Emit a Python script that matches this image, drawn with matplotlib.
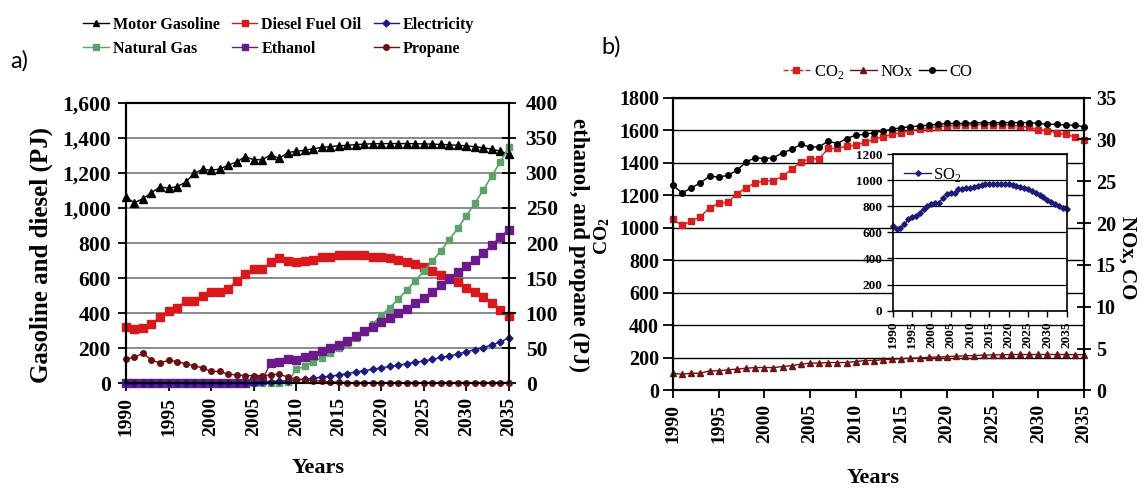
import matplotlib

matplotlib.use("Agg")

import matplotlib.pyplot as plt
from matplotlib.lines import Line2D
from matplotlib.ticker import FuncFormatter, MultipleLocator

years = list(range(1990, 2036))

# panel a) - left axis (PJ)
gasoline = [1060, 1030, 1053, 1087, 1120, 1112, 1122, 1146, 1197, 1220,
            1215, 1222, 1244, 1262, 1292, 1275, 1275, 1303, 1282, 1315,
            1324, 1328, 1338, 1345, 1350, 1354, 1357, 1361, 1364, 1366,
            1367, 1367, 1367, 1367, 1366, 1365, 1364, 1362, 1360, 1357,
            1354, 1349, 1343, 1335, 1324, 1305]
diesel = [324, 309, 314, 337, 381, 413, 429, 470, 470, 499,
          522, 518, 537, 585, 623, 651, 651, 690, 712, 699,
          690, 699, 706, 719, 723, 729, 733, 733, 729, 723,
          719, 713, 704, 694, 681, 666, 643, 618, 599, 575,
          546, 519, 491, 457, 419, 384]
# panel a) - right axis (PJ)
natural_gas = [0, 0, 0, 0, 0, 0, 0, 0, 0, 0,
               0, 0, 0, 0, 0, 0, 0.5, 1, 1, 1.5,
               20, 24, 31, 36, 43, 50, 56, 64, 73, 84,
               97, 108, 120, 133, 146, 160, 174, 189, 205, 221,
               239, 257, 276, 296, 316, 337]
ethanol = [0, 0, 0, 0, 0, 0, 0, 0, 0, 0,
           0, 0, 0, 0, 0, 3, 5, 29, 31, 34,
           33, 37, 41, 46, 50, 55, 61, 67, 74, 80,
           87, 93, 100, 106, 114, 122, 130, 140, 149, 158,
           167, 176, 186, 197, 209, 219]
electricity = [0.5, 0.5, 0.5, 0.5, 0.5, 0.5, 0.5, 0.5, 0.5, 0.5,
               0.5, 0.5, 0.5, 0.5, 0.5, 1, 1.5, 2, 3, 4,
               5, 6, 7, 9, 10, 12, 14, 16, 18, 20,
               22, 24, 26, 28, 30, 32, 34, 37, 39, 42,
               45, 48, 51, 55, 59, 65]
propane = [35, 37, 43, 33, 29, 33, 31, 28, 25, 22,
           17, 17, 13, 12, 11, 11, 11, 12, 13, 9,
           6, 5, 4, 3, 2, 1.5, 1, 1, 1, 1,
           1, 1, 1, 1, 1, 1, 1, 1, 1, 1,
           1, 1, 1, 1, 1, 1]

# panel b)
co2 = [1051, 1014, 1041, 1067, 1123, 1149, 1157, 1207, 1247, 1276,
       1288, 1288, 1317, 1360, 1405, 1423, 1423, 1487, 1487, 1501,
       1507, 1524, 1544, 1558, 1573, 1585, 1595, 1605, 1613, 1620,
       1626, 1629, 1632, 1633, 1634, 1634, 1634, 1630, 1624, 1616,
       1603, 1595, 1583, 1573, 1558, 1538]
nox = [2.06, 1.94, 2.06, 2.06, 2.35, 2.35, 2.47, 2.55, 2.66, 2.74,
       2.74, 2.74, 2.86, 2.97, 3.15, 3.27, 3.27, 3.34, 3.34, 3.34,
       3.46, 3.58, 3.58, 3.69, 3.73, 3.81, 3.85, 3.89, 3.97, 4.0,
       4.06, 4.1, 4.14, 4.18, 4.22, 4.26, 4.26, 4.3, 4.3, 4.3,
       4.3, 4.3, 4.3, 4.3, 4.28, 4.28]
co = [24.5, 23.6, 24.2, 24.8, 25.6, 25.5, 25.7, 26.3, 27.3, 27.8,
      27.7, 27.8, 28.4, 28.8, 29.4, 29.1, 29.1, 29.8, 29.5, 30.1,
      30.5, 30.6, 30.8, 31.0, 31.2, 31.4, 31.5, 31.6, 31.7, 31.8,
      31.9, 31.9, 31.9, 32.0, 32.0, 32.0, 32.0, 32.0, 32.0, 32.0,
      31.9, 31.8, 31.8, 31.7, 31.7, 31.5]
so2 = [648, 623, 631, 661, 700, 715, 725, 750, 779, 802,
       814, 822, 827, 865, 894, 899, 899, 929, 934, 937,
       942, 950, 957, 962, 968, 970, 973, 973, 973, 970,
       968, 962, 955, 947, 940, 929, 917, 904, 886, 868,
       848, 832, 817, 802, 784, 776]

year_ticks = list(range(1990, 2036, 5))

plt.rcParams["font.family"] = ["Liberation Serif", "DejaVu Serif"]
plt.rcParams["mathtext.fontset"] = "custom"
plt.rcParams["mathtext.rm"] = "Liberation Serif"
plt.rcParams["mathtext.bf"] = "Liberation Serif:bold"

fig = plt.figure(figsize=(11.43, 4.91), dpi=100)

BOLD = dict(fontweight="bold")


def style_year_axis(ax, size):
    ax.set_xlim(1990, 2035)
    ax.set_xticks(year_ticks)
    ax.set_xticklabels([str(y) for y in year_ticks], rotation=90, fontsize=size, **BOLD)
    ax.tick_params(axis="x", direction="out", length=6, width=1.3)


# ---------- panel a) ----------
ax1 = fig.add_axes([0.1102, 0.2193, 0.3351, 0.5715])
ax1r = ax1.twinx()

ax1.plot(years, gasoline, color="black", marker="^", ms=5.5, lw=1, clip_on=False)
ax1.plot(years, diesel, color="#d7191c", marker="s", ms=5.5, lw=1, clip_on=False)
ax1r.plot(years, natural_gas, color="#5ca36a", marker="s", ms=4.5, lw=1.2, clip_on=False)
ax1r.plot(years, ethanol, color="#6a1a8a", marker="s", ms=5.5, lw=1, clip_on=False)
ax1r.plot(years, electricity, color="#1a1a80", marker="D", ms=3.5, lw=1, clip_on=False)
ax1r.plot(years, propane, color="#6b1010", marker="o", ms=4, lw=1, clip_on=False)

ax1.set_ylim(0, 1600)
ax1.yaxis.set_major_locator(MultipleLocator(200))
ax1.yaxis.set_major_formatter(FuncFormatter(lambda v, p: f"{int(v):,}"))
ax1r.set_ylim(0, 400)
ax1r.yaxis.set_major_locator(MultipleLocator(50))
ax1.yaxis.grid(True, color="#8a8a8a", lw=1.4)
ax1.set_axisbelow(True)
style_year_axis(ax1, 14)
ax1.tick_params(axis="y", direction="out", length=6, width=1.3, labelsize=15.5, pad=5)
ax1r.tick_params(axis="y", direction="inout", length=10, width=1.3, labelsize=15.5, pad=7)
for lab in ax1.get_yticklabels() + ax1r.get_yticklabels():
    lab.set_fontweight("bold")
for ax in (ax1, ax1r):
    for sp in ax.spines.values():
        sp.set_linewidth(1.5)

handles_a = [
    Line2D([], [], color="black", marker="^", ms=5, lw=1, label="Motor Gasoline"),
    Line2D([], [], color="#5ca36a", marker="s", ms=4.5, lw=1, label="Natural Gas"),
    Line2D([], [], color="#d7191c", marker="s", ms=5, lw=1, label="Diesel Fuel Oil"),
    Line2D([], [], color="#6a1a8a", marker="s", ms=5, lw=1, label="Ethanol"),
    Line2D([], [], color="#1a1a80", marker="D", ms=3.5, lw=1, label="Electricity"),
    Line2D([], [], color="#6b1010", marker="o", ms=4, lw=1, label="Propane"),
]
fig.legend(handles=handles_a, ncol=3, loc="center", bbox_to_anchor=(0.244, 0.925),
           frameon=False, prop={"size": 11.5, "weight": "bold"}, handlelength=1.6,
           handletextpad=0.25, columnspacing=0.75, labelspacing=0.5)

fig.text(0.036, 0.48, "Gasoline and diesel (PJ)", rotation=90, ha="center", va="center",
         fontsize=18, **BOLD)
fig.text(0.506, 0.50, "ethanol, and propane (PJ)", rotation=-90, ha="center", va="center",
         fontsize=16.5, **BOLD)
fig.text(0.278, 0.047, "Years", ha="center", va="center", fontsize=16, **BOLD)
fig.text(0.017, 0.876, "a)", ha="center", va="center", fontsize=17, family="Lato")

# ---------- panel b) ----------
ax2 = fig.add_axes([0.5888, 0.2047, 0.3596, 0.5967])
ax2r = ax2.twinx()

ax2.plot(years, co2, color="#d42020", marker="s", ms=4, lw=1, clip_on=False)
ax2r.plot(years, nox, color="#6e1414", marker="^", ms=4.5, lw=1, clip_on=False)
ax2r.plot(years, co, color="black", marker="o", ms=4, lw=1, clip_on=False)

ax2.set_ylim(0, 1800)
ax2.yaxis.set_major_locator(MultipleLocator(200))
ax2r.set_ylim(0, 35)
ax2r.yaxis.set_major_locator(MultipleLocator(5))
ax2.yaxis.grid(True, color="black", lw=1)
ax2.set_axisbelow(True)
style_year_axis(ax2, 14)
ax2.tick_params(axis="y", direction="out", length=7, width=1.3, labelsize=14.5, pad=3)
ax2r.tick_params(axis="y", direction="inout", length=10, width=1.3, labelsize=14.5)
for lab in ax2.get_yticklabels() + ax2r.get_yticklabels():
    lab.set_fontweight("bold")
for ax in (ax2, ax2r):
    for sp in ax.spines.values():
        sp.set_linewidth(1.5)

handles_b = [
    Line2D([], [], color="#d42020", marker="s", ms=4, lw=1, ls="--", label="CO$_2$"),
    Line2D([], [], color="#6e1414", marker="^", ms=4.5, lw=1, label="NOx"),
    Line2D([], [], color="black", marker="o", ms=4, lw=1, label="CO"),
]
fig.legend(handles=handles_b, ncol=3, loc="center", bbox_to_anchor=(0.768, 0.853),
           frameon=False, prop={"size": 12}, handlelength=1.6, handletextpad=0.25,
           columnspacing=0.35)

fig.text(0.527, 0.52, r"$\mathbf{CO_2}$", rotation=90, ha="center", va="center", fontsize=14)
fig.text(0.986, 0.475, "NOx, CO", rotation=-90, ha="center", va="center", fontsize=15, **BOLD)
fig.text(0.764, 0.026, "Years", ha="center", va="center", fontsize=16, **BOLD)
fig.text(0.535, 0.904, "b)", ha="center", va="center", fontsize=17, family="Lato")

# inset SO2
ax3 = fig.add_axes([0.781, 0.3672, 0.1522, 0.3191])
ax3.plot(years, so2, color="#1b1b78", marker="D", ms=2.8, lw=1, clip_on=False, label="SO$_2$")
ax3.set_ylim(0, 1200)
ax3.yaxis.set_major_locator(MultipleLocator(200))
ax3.yaxis.grid(True, color="black", lw=0.9)
ax3.set_axisbelow(True)
style_year_axis(ax3, 9.5)
ax3.tick_params(axis="x", length=4, width=1)
ax3.tick_params(axis="y", direction="out", length=4, width=1, labelsize=9.5)
for lab in ax3.get_yticklabels():
    lab.set_fontweight("bold")
for sp in ax3.spines.values():
    sp.set_linewidth(1.2)
ax3.legend(loc="upper left", frameon=False, prop={"size": 12}, handlelength=1.6,
           handletextpad=0.1, borderaxespad=0.3)

fig.savefig("out.png", dpi=100)
